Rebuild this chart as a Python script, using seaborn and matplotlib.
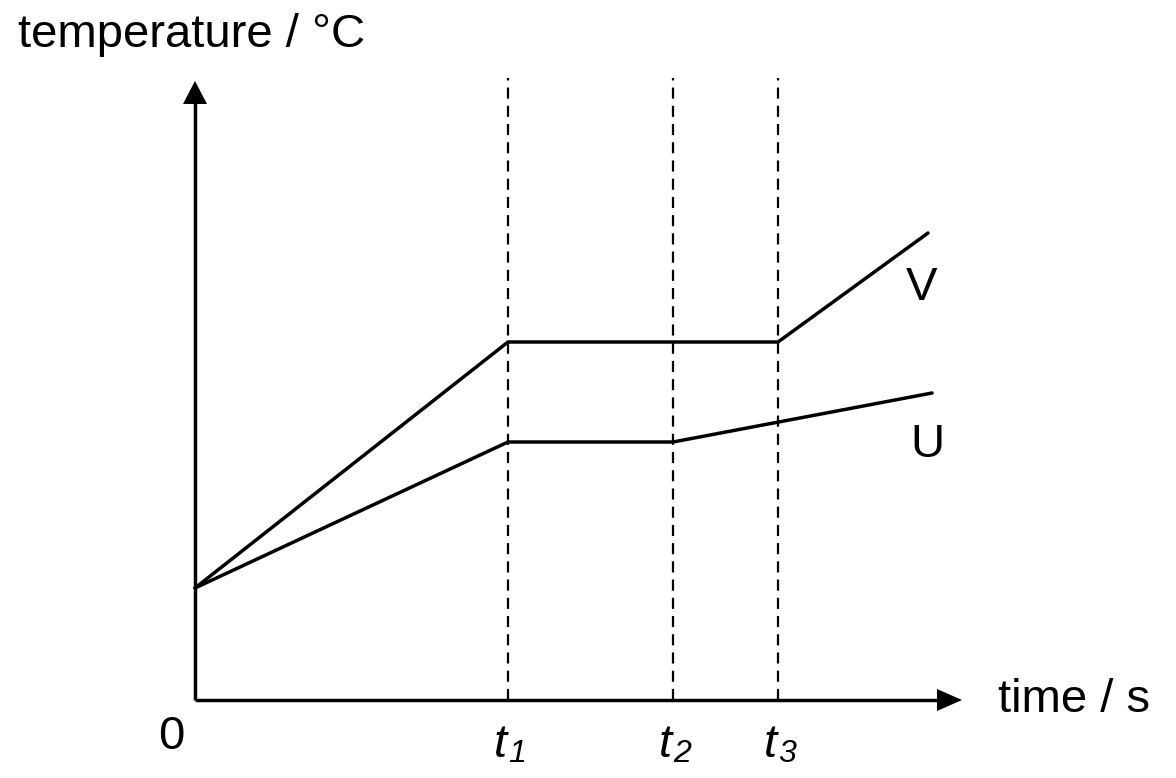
import numpy as np
import pandas as pd
import matplotlib
matplotlib.use("Agg")
import matplotlib.pyplot as plt
import seaborn as sns

# data (arbitrary units, origin at 0)
time_V = [0, 3.13, 5.83, 7.33]
temp_V = [1.12, 3.58, 3.58, 4.67]
time_U = [0, 3.13, 4.78, 7.37]
temp_U = [1.12, 2.58, 2.58, 3.07]
t_marks = [3.13, 4.78, 5.83]
t_subs = ["1", "2", "3"]

sns.set_theme(style="white")
plt.rcParams['font.family'] = ['Liberation Sans', 'DejaVu Sans']
plt.rcParams['text.color'] = 'black'

fig = plt.figure(figsize=(11.76, 7.78), dpi=100)
ax = fig.add_axes([0, 0, 1, 1])
ax.set_xlim(-1.95, 9.81)
ax.set_ylim(-0.78, 7.00)
ax.axis("off")

df = pd.concat([
    pd.DataFrame({"time": time_V, "temp": temp_V, "sub": "V"}),
    pd.DataFrame({"time": time_U, "temp": temp_U, "sub": "U"}),
])
sns.lineplot(data=df, x="time", y="temp", units="sub", estimator=None,
             color="black", lw=2.5, sort=False, ax=ax, legend=False)

# dashed guides
for t in t_marks:
    ax.plot([t, t], [0, 6.22], color="black", lw=1.6, ls=(0, (5, 3.2)))

# axes with arrows
ax.plot([0, 7.45], [0, 0], color="black", lw=2.5, solid_capstyle="butt")
ax.plot([0, 0], [0, 6.0], color="black", lw=2.5, solid_capstyle="butt")
ax.fill([7.42, 7.67, 7.42], [0.11, 0, -0.11], color="black", lw=0)
ax.fill([-0.12, 0, 0.12], [5.96, 6.19, 5.96], color="black", lw=0)

fs = 34
ax.text(-1.77, 6.53, "temperature / °C", fontsize=fs, ha="left", va="baseline")
ax.text(8.03, 0.0, "time / s", fontsize=fs, ha="left", va="center")
ax.text(-0.24, -0.37, "0", fontsize=fs, ha="center", va="center")
for t, s in zip(t_marks, t_subs):
    ax.text(t - 0.08, -0.57, "t", fontsize=fs, style="italic", ha="center", va="baseline")
    ax.text(t + 0.09, -0.62, s, fontsize=fs * 0.68, style="italic", ha="center", va="baseline")
ax.text(7.27, 4.12, "V", fontsize=fs, ha="center", va="center")
ax.text(7.32, 2.55, "U", fontsize=fs, ha="center", va="center")

fig.savefig("out.png", dpi=100)
